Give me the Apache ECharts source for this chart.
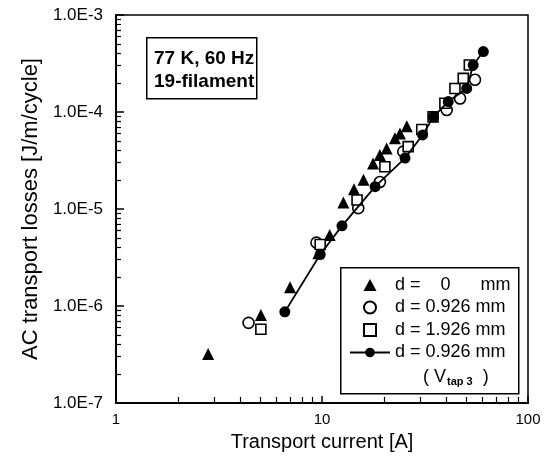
<!DOCTYPE html>
<html>
<head>
<meta charset="utf-8">
<script src="https://cdn.jsdelivr.net/npm/echarts@6/dist/echarts.min.js"></script>
<style>
html,body{margin:0;padding:0;background:#fff;}
#chart{width:547px;height:462px;}
</style>
</head>
<body>
<div id="chart"></div>
<script>
// ---- data ----
var triX = [2.8, 5.05, 7.0, 9.6, 10.9, 12.7, 14.3, 15.9, 17.7, 19.1, 20.6, 22.6, 23.9, 25.8];
var triY = [3.2e-7, 8.1e-7, 1.56e-6, 3.5e-6, 5.4e-6, 1.17e-5, 1.6e-5, 2.0e-5, 2.95e-5, 3.6e-5, 4.2e-5, 5.35e-5, 6.0e-5, 7.15e-5];

var circX = [4.4, 9.4, 15.0, 19.1, 24.8, 40.3, 46.8, 55.3];
var circY = [6.7e-7, 4.5e-6, 1.02e-5, 1.9e-5, 3.9e-5, 1.05e-4, 1.38e-4, 2.15e-4];

var sqX = [5.05, 9.8, 14.8, 20.2, 26.2, 30.5, 34.6, 39.5, 44.2, 48.5, 51.9];
var sqY = [5.75e-7, 4.3e-6, 1.24e-5, 2.73e-5, 4.4e-5, 6.6e-5, 8.9e-5, 1.23e-4, 1.75e-4, 2.22e-4, 3.05e-4];

var dotX = [6.6, 9.8, 12.5, 18.1, 25.3, 30.8, 34.7, 41.0, 50.4, 54.2, 60.7];
var dotY = [8.7e-7, 3.4e-6, 6.7e-6, 1.7e-5, 3.35e-5, 5.8e-5, 8.9e-5, 1.28e-4, 1.75e-4, 3.05e-4, 4.2e-4];

var seriesNames = ['d0', 'd0926', 'd1926', 'd0926v'];
var legendLabels = ['d =    0      mm', 'd = 0.926 mm', 'd = 1.926 mm', 'd = 0.926 mm'];
var xAxisTitle = 'Transport current [A]';
var yAxisTitle = 'AC transport losses [J/m/cycle]';
var noteLines = ['77 K, 60 Hz', '19-filament'];

function pairs(xs, ys) { return xs.map(function (x, i) { return [x, ys[i]]; }); }

var FONT = '"Liberation Sans", Arial, sans-serif';
var chart = echarts.init(document.getElementById('chart'), null, {renderer: 'canvas'});

var option = {
  backgroundColor: '#fff',
  animation: false,
  grid: {left: 116, right: 19, top: 15, bottom: 59, show: true, borderColor: '#000', borderWidth: 1.5, backgroundColor: 'transparent'},
  xAxis: {
    type: 'log', logBase: 10, min: 1, max: 100,
    name: xAxisTitle, nameLocation: 'middle', nameGap: 29,
    nameTextStyle: {fontFamily: FONT, fontSize: 20, color: '#000'},
    axisLine: {lineStyle: {color: '#000', width: 2}},
    axisTick: {inside: true, length: 7, lineStyle: {color: '#000', width: 1.5}},
    minorTick: {show: true, splitNumber: 9, length: 6, lineStyle: {color: '#000', width: 1.2}},
    splitLine: {show: false}, minorSplitLine: {show: false},
    axisLabel: {fontFamily: FONT, fontSize: 15, color: '#000', margin: 9,
      formatter: function (v) { return String(Math.round(v)); }}
  },
  yAxis: {
    type: 'log', logBase: 10, min: 1e-7, max: 1e-3,
    name: yAxisTitle, nameLocation: 'middle', nameGap: 72,
    nameTextStyle: {fontFamily: FONT, fontSize: 22, color: '#000'},
    axisLine: {lineStyle: {color: '#000', width: 2}},
    axisTick: {inside: true, length: 8, lineStyle: {color: '#000', width: 1.5}},
    minorTick: {show: true, splitNumber: 9, length: 5, lineStyle: {color: '#000', width: 1.2}},
    splitLine: {show: false}, minorSplitLine: {show: false},
    axisLabel: {fontFamily: FONT, fontSize: 17, color: '#000', margin: 13,
      formatter: function (v) { return v.toExponential(1).toUpperCase(); }}
  },
  legend: {
    orient: 'vertical', left: 349, top: 276, padding: 0,
    itemWidth: 40, itemHeight: 12, itemGap: 4.5, itemTextGap: 7,
    symbolKeepAspect: true,
    data: [
      {name: seriesNames[0], icon: 'path://M6,0L12,11L0,11Z'},
      {name: seriesNames[1]},
      {name: seriesNames[2], icon: 'path://M0,0L11,0L11,11L0,11Z'},
      {name: seriesNames[3]}
    ],
    formatter: function (name) { return legendLabels[seriesNames.indexOf(name)]; },
    textStyle: {fontFamily: FONT, fontSize: 18, color: '#000', lineHeight: 18}
  },
  series: [
    {name: seriesNames[0], type: 'scatter', data: pairs(triX, triY), symbol: 'triangle', symbolSize: 12,
     itemStyle: {color: '#000', opacity: 1}, z: 3},
    {name: seriesNames[1], type: 'scatter', data: pairs(circX, circY), symbol: 'circle', symbolSize: 11,
     itemStyle: {color: '#fff', borderColor: '#000', borderWidth: 1.6, opacity: 1}, z: 4},
    {name: seriesNames[2], type: 'scatter', data: pairs(sqX, sqY), symbol: 'rect', symbolSize: 10,
     itemStyle: {color: '#fff', borderColor: '#000', borderWidth: 1.6, opacity: 1}, z: 4},
    {name: seriesNames[3], type: 'line', data: pairs(dotX, dotY), symbol: 'circle', symbolSize: 11, showSymbol: true,
     lineStyle: {color: '#000', width: 1.8}, itemStyle: {color: '#000', opacity: 1}, z: 5}
  ],
  graphic: [
    {type: 'rect', left: 146, top: 37, shape: {width: 110, height: 61},
     style: {fill: '#fff', stroke: '#000', lineWidth: 1.5}, z: 10},
    {type: 'text', left: 154, top: 47, z: 11,
     style: {text: noteLines.join('\n'), fontFamily: FONT, fontSize: 19, fontWeight: 'bold', fill: '#000', lineHeight: 23}},
    {type: 'rect', left: 340, top: 267, shape: {width: 178, height: 126},
     style: {fill: '#fff', stroke: '#000', lineWidth: 1.5}, z: 1},
    {type: 'text', left: 423, top: 368, z: 11,
     style: {
       text: '{p|( V}{s|tap 3}{p|  )}',
       rich: {
         p: {fontFamily: FONT, fontSize: 18, fill: '#000'},
         s: {fontFamily: FONT, fontSize: 11, fontWeight: 'bold', fill: '#000', padding: [9, 0, 0, 1]}
       }
     }}
  ]
};
chart.setOption(option);
</script>
</body>
</html>
